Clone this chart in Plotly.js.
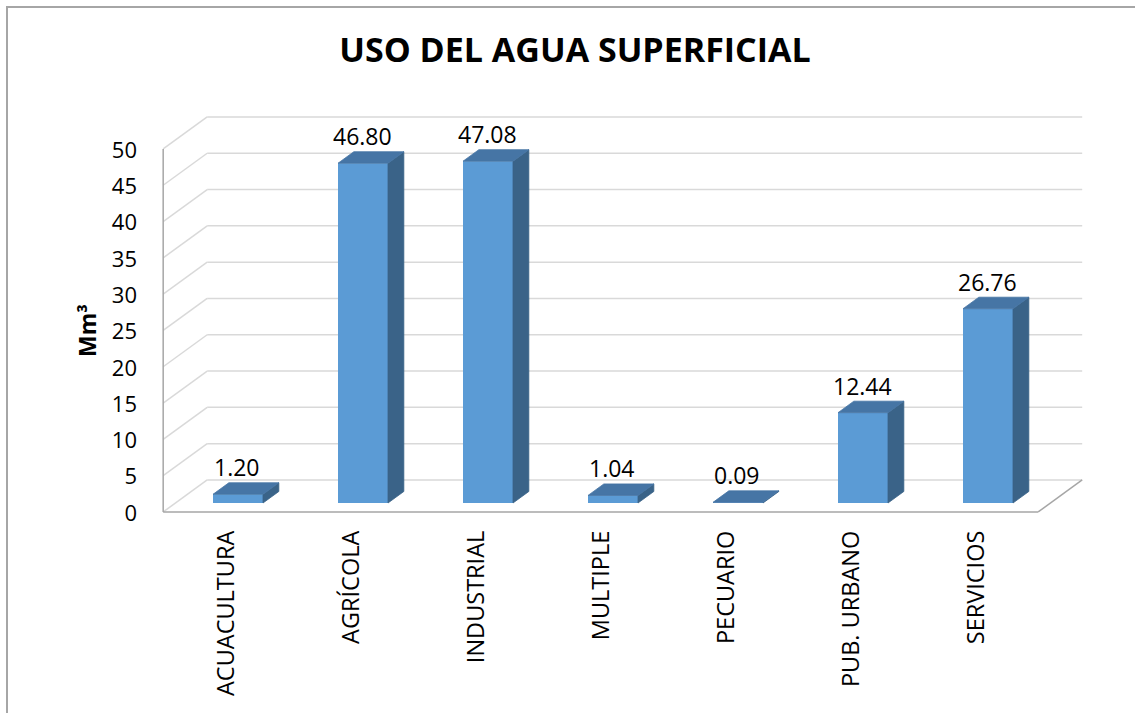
<!DOCTYPE html>
<html>
<head>
<meta charset="utf-8">
<script src="https://cdn.plot.ly/plotly-3.0.1.min.js"></script>
<style>
  html, body { margin: 0; padding: 0; background: #ffffff; }
  #chart { width: 1135px; height: 713px; }
</style>
</head>
<body>
<div id="chart"></div>
<script>
// ---- data ----
const categories = ['ACUACULTURA', 'AGRÍCOLA', 'INDUSTRIAL', 'MULTIPLE', 'PECUARIO', 'PUB. URBANO', 'SERVICIOS'];
const values = [1.20, 46.80, 47.08, 1.04, 0.09, 12.44, 26.76];
const yTicks = [0, 5, 10, 15, 20, 25, 30, 35, 40, 45, 50];
const chartTitle = 'USO DEL AGUA SUPERFICIAL';
const yTitle = 'Mm³';

// ---- layout geometry (pixels) ----
const W = 1135, H = 713;
const PL = 142, PR = 1110, PT = 90, PB = 516;   // plot area
const X0 = 238, KX = 125;                       // pixel of category 0, px per category
const Y0 = 503, KY = 7.26;                      // pixel of value 0 (bar plane), px per unit
const DX = 44, DY = 32;                         // full depth offset in px (right, up)
const T0 = 0.28, TB = 0.64;                     // bar front / back depth
const BAR_W = 0.4;                              // bar width in category units

const xr = [(PL - X0) / KX, (PR - X0) / KX];
const yr = [(Y0 - PB) / KY, (Y0 - PT) / KY];

// project a (category, value, depth) point into the bar-plane data coordinates
function P(x, y, t) {
  return [x + (t - T0) * DX / KX, y + (t - T0) * DY / KY];
}

const idx = categories.map((_, i) => i);
const xLo = -0.5, xHi = categories.length - 0.5;
const yMax = yTicks[yTicks.length - 1];

// ---- walls, grid and floor as shapes below the bars ----
const shapes = [];
function seg(a, b, color, width) {
  shapes.push({ type: 'line', xref: 'x', yref: 'y', layer: 'below',
    x0: a[0], y0: a[1], x1: b[0], y1: b[1], line: { color: color, width: width } });
}
const GRID = '#d9d9d9', EDGE = '#a6a6a6';
yTicks.forEach(v => {
  seg(P(xLo, v, 0), P(xLo, v, 1), GRID, 1.5);
  seg(P(xLo, v, 1), P(xHi, v, 1), GRID, 1.5);
});
seg(P(xLo, 0, 0), P(xHi, 0, 0), EDGE, 1.5);
seg(P(xHi, 0, 0), P(xHi, 0, 1), EDGE, 1.5);
seg(P(xLo, 0, 0), P(xLo, yMax, 0), EDGE, 1.5);

// chart frame (top and left edges)
const xp = px => (px - PL) / (PR - PL);
const yp = py => (PB - py) / (PB - PT);
shapes.push({ type: 'path', xref: 'paper', yref: 'paper', layer: 'above',
  path: `M ${xp(7)} ${yp(H + 5)} L ${xp(7)} ${yp(7)} L ${xp(W + 5)} ${yp(7)}`,
  line: { color: '#a6a6a6', width: 2 } });

// ---- bar faces ----
const topX = [], topY = [], sideX = [], sideY = [];
values.forEach((v, i) => {
  const l = i - BAR_W / 2, r = i + BAR_W / 2;
  [P(l, v, T0), P(r, v, T0), P(r, v, TB), P(l, v, TB), P(l, v, T0)].forEach(p => { topX.push(p[0]); topY.push(p[1]); });
  topX.push(null); topY.push(null);
  [P(r, 0, T0), P(r, v, T0), P(r, v, TB), P(r, 0, TB), P(r, 0, T0)].forEach(p => { sideX.push(p[0]); sideY.push(p[1]); });
  sideX.push(null); sideY.push(null);
});

const FRONT = '#5b9bd5', TOP = '#4675a5', SIDE = '#3a6388';

const traces = [
  { type: 'bar', x: idx, y: values, width: BAR_W,
    marker: { color: FRONT, line: { width: 0 } }, hoverinfo: 'skip', showlegend: false },
  { type: 'scatter', mode: 'lines', x: sideX, y: sideY, fill: 'toself', fillcolor: SIDE,
    line: { color: SIDE, width: 0.8 }, hoverinfo: 'skip', showlegend: false },
  { type: 'scatter', mode: 'lines', x: topX, y: topY, fill: 'toself', fillcolor: TOP,
    line: { color: TOP, width: 0.8 }, hoverinfo: 'skip', showlegend: false }
];

// ---- data labels ----
const annotations = values.map((v, i) => ({
  x: i, y: v, xref: 'x', yref: 'y', text: v.toFixed(2), showarrow: false,
  xanchor: 'center', yanchor: 'middle', yshift: 27, xshift: -1,
  font: { family: 'Open Sans, sans-serif', size: 23, color: '#000000' }
}));
// y-axis title
annotations.push({
  xref: 'paper', yref: 'paper', x: xp(87), y: yp(331), text: '<b>' + yTitle + '</b>',
  textangle: -90, showarrow: false, xanchor: 'center', yanchor: 'middle',
  font: { family: 'Open Sans, sans-serif', size: 23, color: '#000000' }
});

const layout = {
  width: W, height: H,
  margin: { l: PL, r: W - PR, t: PT, b: H - PB, pad: 0 },
  paper_bgcolor: '#ffffff', plot_bgcolor: 'rgba(0,0,0,0)',
  font: { family: 'Open Sans, sans-serif', color: '#000000' },
  title: { text: '<b>' + chartTitle + '</b>', x: 575 / W, xanchor: 'center',
    yref: 'container', y: 1 - 50 / H, yanchor: 'middle',
    font: { family: 'Open Sans, sans-serif', size: 34, color: '#000000' } },
  showlegend: false,
  xaxis: { range: xr, tickvals: idx, ticktext: categories, tickangle: -90,
    showgrid: false, zeroline: false, showline: false, ticks: '',
    ticklabelshift: -12, ticklabelstandoff: 9, fixedrange: true,
    tickfont: { family: 'Open Sans, sans-serif', size: 23.5, color: '#000000' } },
  yaxis: { range: yr, tickvals: yTicks, ticktext: yTicks.map(String),
    showgrid: false, zeroline: false, showline: false, ticks: '',
    ticklabelshift: 10, ticklabelstandoff: 4, fixedrange: true,
    tickfont: { family: 'Open Sans, sans-serif', size: 22, color: '#000000' } },
  shapes: shapes,
  annotations: annotations
};

Plotly.newPlot('chart', traces, layout, { displayModeBar: false, staticPlot: true });
</script>
</body>
</html>
